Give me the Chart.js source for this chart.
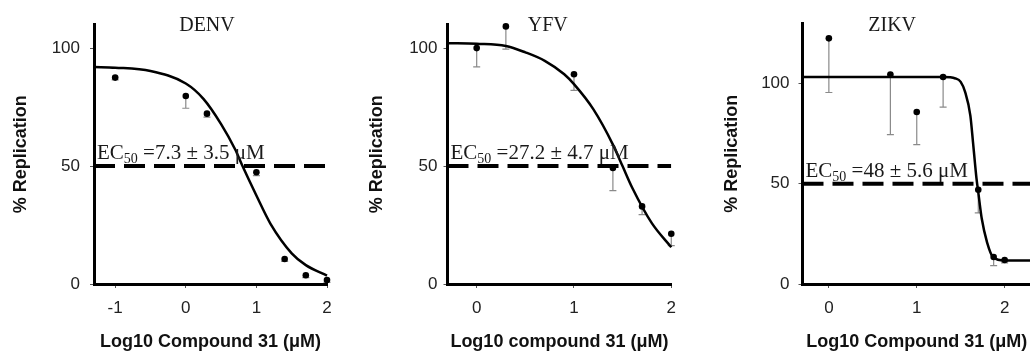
<!DOCTYPE html>
<html>
<head>
<meta charset="utf-8">
<script src="https://cdn.jsdelivr.net/npm/chart.js@4.4.1/dist/chart.umd.min.js"></script>
<style>
  html, body { margin: 0; padding: 0; background: #fff; }
  body { width: 1030px; height: 356px; overflow: hidden; position: relative; }
  canvas { position: absolute; top: 0; }
</style>
</head>
<body>
<canvas id="denv" width="343" height="356" style="left:0px"></canvas>
<canvas id="yfv" width="343" height="356" style="left:343px"></canvas>
<canvas id="zikv" width="349" height="356" style="left:686px"></canvas>
<script>
// DENV: log10 dose, % replication, downward error
const denvDose = [-1, 0, 0.3, 1, 1.4, 1.7, 2];
const denvRep = [87.5, 79.7, 72.2, 47.4, 10.6, 3.7, 1.7];
const denvErr = [1, 5.2, 1.5, 1.5, 1, 1, 1];
const denvFitX = [-1.3, -1, -0.5, 0, 0.25, 0.5, 0.7, 0.8, 1, 1.2, 1.5, 1.7, 2];
const denvFitY = [92, 91.7, 90.3, 85, 78.5, 67.8, 57, 50.2, 37.5, 25.5, 13, 8, 3.6];

// YFV
const yfvDose = [0, 0.3, 1, 1.4, 1.7, 2];
const yfvRep = [100, 109.2, 88.9, 49.2, 32.9, 21.3];
const yfvErr = [8, 9.6, 6.8, 9.6, 3.5, 5];
const yfvFitX = [-0.3, 0, 0.3, 0.5, 0.7, 0.9, 1, 1.2, 1.4, 1.5, 1.6, 1.8, 2];
const yfvFitY = [102.1, 101.8, 100.9, 98.2, 94.6, 88.9, 84.7, 74, 59.1, 49.9, 40.7, 25.8, 15.6];

// ZIKV
const zikvDose = [0, 0.7, 1, 1.3, 1.7, 1.875, 2];
const zikvRep = [122.5, 104.5, 85.8, 103.2, 47, 13.5, 12];
const zikvErr = [27, 30, 16.3, 15, 11.5, 4.3, 1.5];
const zikvFitX = [-0.3, 1.3, 1.44, 1.5, 1.55, 1.61, 1.64, 1.68, 1.7, 1.74, 1.8, 1.87, 2, 2.3];
const zikvFitY = [103.2, 103.2, 102.5, 100.8, 95.8, 84, 70.8, 52.5, 45.8, 32.5, 20.8, 13.3, 11.7, 11.7];

const yTicks = [0, 50, 100];
const denvXTicks = [-1, 0, 1, 2];
const otherXTicks = [0, 1, 2];
const halfLine = 50;
const ec50Texts = [' =7.3 \u00b1 3.5 \u03bcM', ' =27.2 \u00b1 4.7 \u03bcM', ' =48 \u00b1 5.6 \u03bcM'];

Chart.defaults.font.family = '"Liberation Sans", Arial, sans-serif';
Chart.defaults.color = '#222';

const serif = '"Liberation Serif", "Times New Roman", serif';

function pts(xs, ys) {
    return xs.map((x, i) => ({ x: x, y: ys[i] }));
}

function drawPanel(id, p) {
    const axisGrid = { drawOnChartArea: false, drawTicks: true, tickLength: 4, color: '#555', lineWidth: 1 };
    const axisBorder = { color: '#000', width: 3 };

    new Chart(document.getElementById(id), {
        type: 'scatter',
        data: {
            datasets: [
                {
                    data: pts(p.dose, p.rep),
                    showLine: false,
                    pointRadius: 3.3,
                    pointBackgroundColor: '#000',
                    pointBorderWidth: 0,
                    clip: false,
                    order: 0
                },
                {
                    data: pts(p.fitX, p.fitY),
                    showLine: true,
                    borderColor: '#000',
                    borderWidth: 2.5,
                    pointRadius: 0,
                    cubicInterpolationMode: 'monotone',
                    clip: false,
                    order: 1
                },
                {
                    data: [{ x: p.xMin, y: halfLine }, { x: p.xMax, y: halfLine }],
                    showLine: true,
                    borderColor: '#000',
                    borderWidth: 4,
                    borderDash: [21, 9],
                    pointRadius: 0,
                    order: 2
                }
            ]
        },
        options: {
            responsive: false,
            animation: false,
            layout: { padding: { left: 0, right: p.padRight, top: p.padTop, bottom: 0 } },
            plugins: { legend: { display: false }, tooltip: { enabled: false } },
            scales: {
                x: {
                    type: 'linear',
                    min: p.xMin,
                    max: p.xMax,
                    afterBuildTicks: s => { s.ticks = p.xTicks.map(v => ({ value: v })); },
                    afterFit: s => { s.height = 72; },
                    ticks: { font: { size: 17 }, padding: 10, color: '#222', callback: v => String(v) },
                    grid: axisGrid,
                    border: axisBorder,
                    title: {
                        display: true,
                        text: p.xTitle,
                        color: '#111',
                        font: { size: 18, weight: 'bold' },
                        padding: { top: 0, bottom: 3 }
                    }
                },
                y: {
                    min: 0,
                    max: p.yMax,
                    afterBuildTicks: s => { s.ticks = yTicks.map(v => ({ value: v })); },
                    afterFit: s => { s.width = p.yWidth; },
                    ticks: { font: { size: 17 }, padding: p.yTickPad, color: '#222' },
                    grid: axisGrid,
                    border: axisBorder,
                    title: {
                        display: true,
                        text: '% Replication',
                        color: '#111',
                        font: { size: 18, weight: 'bold' },
                        padding: { top: p.yTitlePad, bottom: 0 }
                    }
                }
            }
        },
        plugins: [{
            id: 'panelExtras',
            beforeDatasetsDraw(chart) {
                // one-sided error bars, drawn under the points
                const { ctx, scales: { x, y } } = chart;
                ctx.save();
                ctx.strokeStyle = '#8a8a8a';
                ctx.lineWidth = 1.2;
                p.dose.forEach((d, i) => {
                    const px = x.getPixelForValue(d);
                    const top = y.getPixelForValue(p.rep[i]);
                    const bot = y.getPixelForValue(p.rep[i] - p.err[i]);
                    ctx.beginPath();
                    ctx.moveTo(px, top);
                    ctx.lineTo(px, bot);
                    ctx.moveTo(px - 3.5, bot);
                    ctx.lineTo(px + 3.5, bot);
                    ctx.stroke();
                });
                ctx.restore();
            },
            afterDatasetsDraw(chart) {
                const { ctx, chartArea, scales: { x, y } } = chart;
                ctx.save();
                ctx.fillStyle = '#1a1a1a';
                ctx.textBaseline = 'alphabetic';

                ctx.font = '20px ' + serif;
                ctx.textAlign = 'center';
                ctx.fillText(p.title, x.getPixelForValue(p.titleAt), 30.5);

                // EC50 label with subscript
                ctx.textAlign = 'left';
                let tx = chartArea.left + 3;
                const base = y.getPixelForValue(halfLine) - 7;
                ctx.font = '21px ' + serif;
                ctx.fillText('EC', tx, base);
                tx += ctx.measureText('EC').width;
                ctx.font = '14px ' + serif;
                ctx.fillText('50', tx, base + 4);
                tx += ctx.measureText('50').width;
                ctx.font = '21px ' + serif;
                ctx.fillText(p.ec50, tx, base);
                ctx.restore();
            }
        }]
    });
}

drawPanel('denv', {
    dose: denvDose, rep: denvRep, err: denvErr, fitX: denvFitX, fitY: denvFitY,
    xMin: -1.3, xMax: 2, yMax: 110, xTicks: denvXTicks,
    title: 'DENV', titleAt: 0.3, ec50: ec50Texts[0],
    xTitle: 'Log10 Compound 31 (\u03bcM)',
    padTop: 24.5, padRight: 16, yWidth: 94, yTickPad: 10, yTitlePad: 10
});

drawPanel('yfv', {
    dose: yfvDose, rep: yfvRep, err: yfvErr, fitX: yfvFitX, fitY: yfvFitY,
    xMin: -0.3, xMax: 2, yMax: 110, xTicks: otherXTicks,
    title: 'YFV', titleAt: 0.73, ec50: ec50Texts[1],
    xTitle: 'Log10 compound 31 (\u03bcM)',
    padTop: 24.5, padRight: 6, yWidth: 104.5, yTickPad: 6, yTitlePad: 23
});

drawPanel('zikv', {
    dose: zikvDose, rep: zikvRep, err: zikvErr, fitX: zikvFitX, fitY: zikvFitY,
    xMin: -0.3, xMax: 2.3, yMax: 130, xTicks: otherXTicks,
    title: 'ZIKV', titleAt: 0.72, ec50: ec50Texts[2],
    xTitle: 'Log10 Compound 31 (\u03bcM)',
    padTop: 23.3, padRight: 0, yWidth: 116.5, yTickPad: 9, yTitlePad: 35
});
</script>
</body>
</html>
